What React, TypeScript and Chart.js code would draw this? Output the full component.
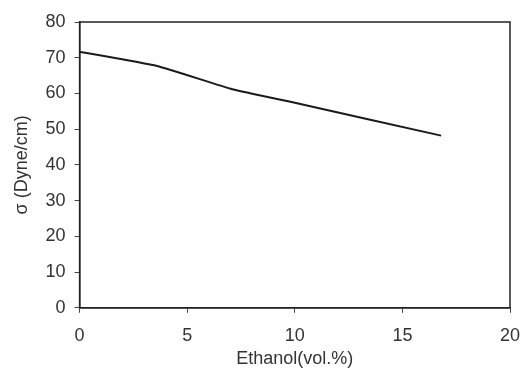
import React, { useEffect, useRef } from "react";
import { Chart, registerables } from "chart.js";

Chart.register(...registerables);

const xValues = [0, 3.6, 7.1, 10, 16.8];
const yValues = [71.7, 67.7, 61.2, 57.4, 48.2];
const xTicks = [0, 5, 10, 15, 20];
const yTicks = [0, 10, 20, 30, 40, 50, 60, 70, 80];
const xTitle = "Ethanol(vol.%)";
const yTitle = "σ (Dyne/cm)";

const frame = {
  id: "frame",
  afterDatasetsDraw(chart: any) {
    const { ctx, chartArea: a } = chart;
    ctx.save();
    ctx.strokeStyle = "#222";
    ctx.lineWidth = 1.5;
    ctx.strokeRect(a.left, a.top, a.right - a.left, a.bottom - a.top);
    ctx.restore();
  },
};

export default function App() {
  const ref = useRef<HTMLCanvasElement | null>(null);
  useEffect(() => {
    document.body.style.margin = "0";
    const font = { family: "'Liberation Sans', Arial, sans-serif", size: 18 };
    const chart = new Chart(ref.current as HTMLCanvasElement, {
      type: "line",
      data: {
        datasets: [
          {
            data: xValues.map((x, i) => ({ x, y: yValues[i] })),
            borderColor: "#1a1a1a",
            borderWidth: 2,
            pointRadius: 0,
            tension: 0.15,
            fill: false,
          },
        ],
      },
      options: {
        responsive: false,
        animation: false,
        layout: { padding: { top: 22, right: 0, left: 11, bottom: 6 } },
        plugins: { legend: { display: false }, tooltip: { enabled: false } },
        scales: {
          x: {
            type: "linear",
            min: 0,
            max: 20,
            afterBuildTicks: (s: any) => {
              s.ticks = xTicks.map((v) => ({ value: v }));
            },
            afterFit: (s: any) => {
              s.paddingRight = 10;
            },
            ticks: { color: "#333", font, padding: 12 },
            grid: { drawOnChartArea: false, drawTicks: true, tickLength: 5, color: "#444" },
            border: { display: true, color: "#222", width: 1.5 },
            title: { display: true, text: xTitle, color: "#333", font, padding: { top: -10, bottom: 0 } },
          },
          y: {
            type: "linear",
            min: 0,
            max: 80,
            afterBuildTicks: (s: any) => {
              s.ticks = yTicks.map((v) => ({ value: v }));
            },
            ticks: { color: "#333", font, padding: 9 },
            grid: { drawOnChartArea: false, drawTicks: true, tickLength: 5, color: "#444" },
            border: { display: true, color: "#222", width: 1.5 },
            title: { display: true, text: yTitle, color: "#333", font, padding: { top: 0, bottom: 4 } },
          },
        },
      },
      plugins: [frame],
    });
    return () => chart.destroy();
  }, []);
  return (
    <div style={{ width: 520, height: 376, background: "#fff" }}>
      <canvas ref={ref} width={520} height={376} />
    </div>
  );
}
